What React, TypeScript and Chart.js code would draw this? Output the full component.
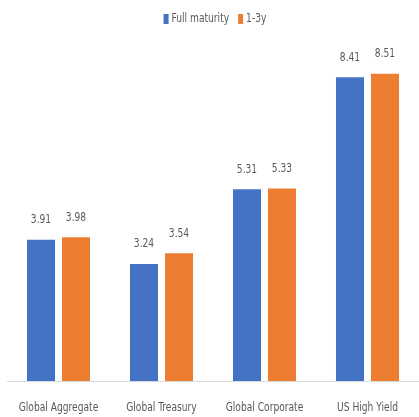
import React, { useEffect, useRef } from "react";
import { Chart, registerables } from "chart.js";

Chart.register(...registerables);

const categories = ["Global Aggregate", "Global Treasury", "Global Corporate", "US High Yield"];
const fullMaturity = [3.91, 3.24, 5.31, 8.41];
const oneToThree = [3.98, 3.54, 5.33, 8.51];
const seriesNames = ["Full maturity", "1-3y"];
const seriesColors = ["#4472C4", "#ED7D31"];

const FONT = '"DejaVu Sans", sans-serif';
const TEXT = "#595959";
const SX = 0.78;

function narrowText(ctx: any, text: string, x: number, y: number, size: number, align: string) {
  ctx.save();
  ctx.font = `condensed ${size}px ${FONT}`;
  try { ctx.fontStretch = "condensed"; } catch (e) {}
  ctx.fillStyle = TEXT;
  ctx.textAlign = align;
  ctx.textBaseline = "middle";
  ctx.translate(x, y);
  ctx.scale(SX, 1);
  ctx.fillText(text, 0, 0);
  ctx.restore();
}

function narrowWidth(ctx: any, text: string, size: number) {
  ctx.save();
  ctx.font = `condensed ${size}px ${FONT}`;
  try { ctx.fontStretch = "condensed"; } catch (e) {}
  const w = ctx.measureText(text).width * SX;
  ctx.restore();
  return w;
}

const textPlugin = {
  id: "textPlugin",
  afterDatasetsDraw(chart: any) {
    const ctx = chart.ctx;
    // value labels
    chart.data.datasets.forEach((ds: any, i: number) => {
      const meta = chart.getDatasetMeta(i);
      meta.data.forEach((el: any, j: number) => {
        narrowText(ctx, Number(ds.data[j]).toFixed(2), el.x, el.y - 20, 13, "center");
      });
    });
    // category labels
    const xs = chart.scales.x;
    chart.data.labels.forEach((lab: string, i: number) => {
      narrowText(ctx, lab, xs.getPixelForTick(i), xs.bottom - 9, 13, "center");
    });
    // legend
    const LS = 13;
    const widths = chart.data.datasets.map((ds: any) => narrowWidth(ctx, ds.label, LS));
    const box = 5, gapBox = 3, gapItem = 9;
    const total = widths.reduce((a: number, w: number) => a + box + gapBox + w, 0) + gapItem * (widths.length - 1);
    let x = 215 - total / 2;
    const y = 19;
    chart.data.datasets.forEach((ds: any, i: number) => {
      ctx.fillStyle = ds.backgroundColor;
      ctx.fillRect(x, y - 5, box, 10);
      x += box + gapBox;
      narrowText(ctx, ds.label, x, y, LS, "left");
      x += widths[i] + gapItem;
    });
  },
};

export default function App() {
  const ref = useRef<HTMLCanvasElement>(null);
  useEffect(() => {
    const chart = new Chart(ref.current!, {
      type: "bar",
      data: {
        labels: categories,
        datasets: [
          { label: seriesNames[0], data: fullMaturity, backgroundColor: seriesColors[0] },
          { label: seriesNames[1], data: oneToThree, backgroundColor: seriesColors[1] },
        ],
      },
      options: {
        animation: false,
        responsive: false,
        maintainAspectRatio: false,
        layout: { padding: { left: 7, right: 0, top: 38, bottom: 0 } },
        datasets: { bar: { categoryPercentage: 0.68, barPercentage: 0.8 } },
        plugins: {
          tooltip: { enabled: false },
          legend: { display: false },
        },
        scales: {
          x: {
            grid: { display: false, drawTicks: false },
            border: { display: true, color: "#d9d9d9", width: 1 },
            ticks: { display: false },
            afterFit(scale: any) {
              scale.height = 36;
              scale.paddingLeft = 0;
              scale.paddingRight = 0;
            },
          },
          y: { display: false, min: 0, max: 9.5 },
        },
      },
      plugins: [textPlugin],
    });
    return () => chart.destroy();
  }, []);
  return (
    <div style={{ position: "absolute", left: 0, top: 0, width: 419, height: 417, background: "#fff" }}>
      <canvas ref={ref} width={419} height={417} style={{ width: 419, height: 417 }} />
    </div>
  );
}
